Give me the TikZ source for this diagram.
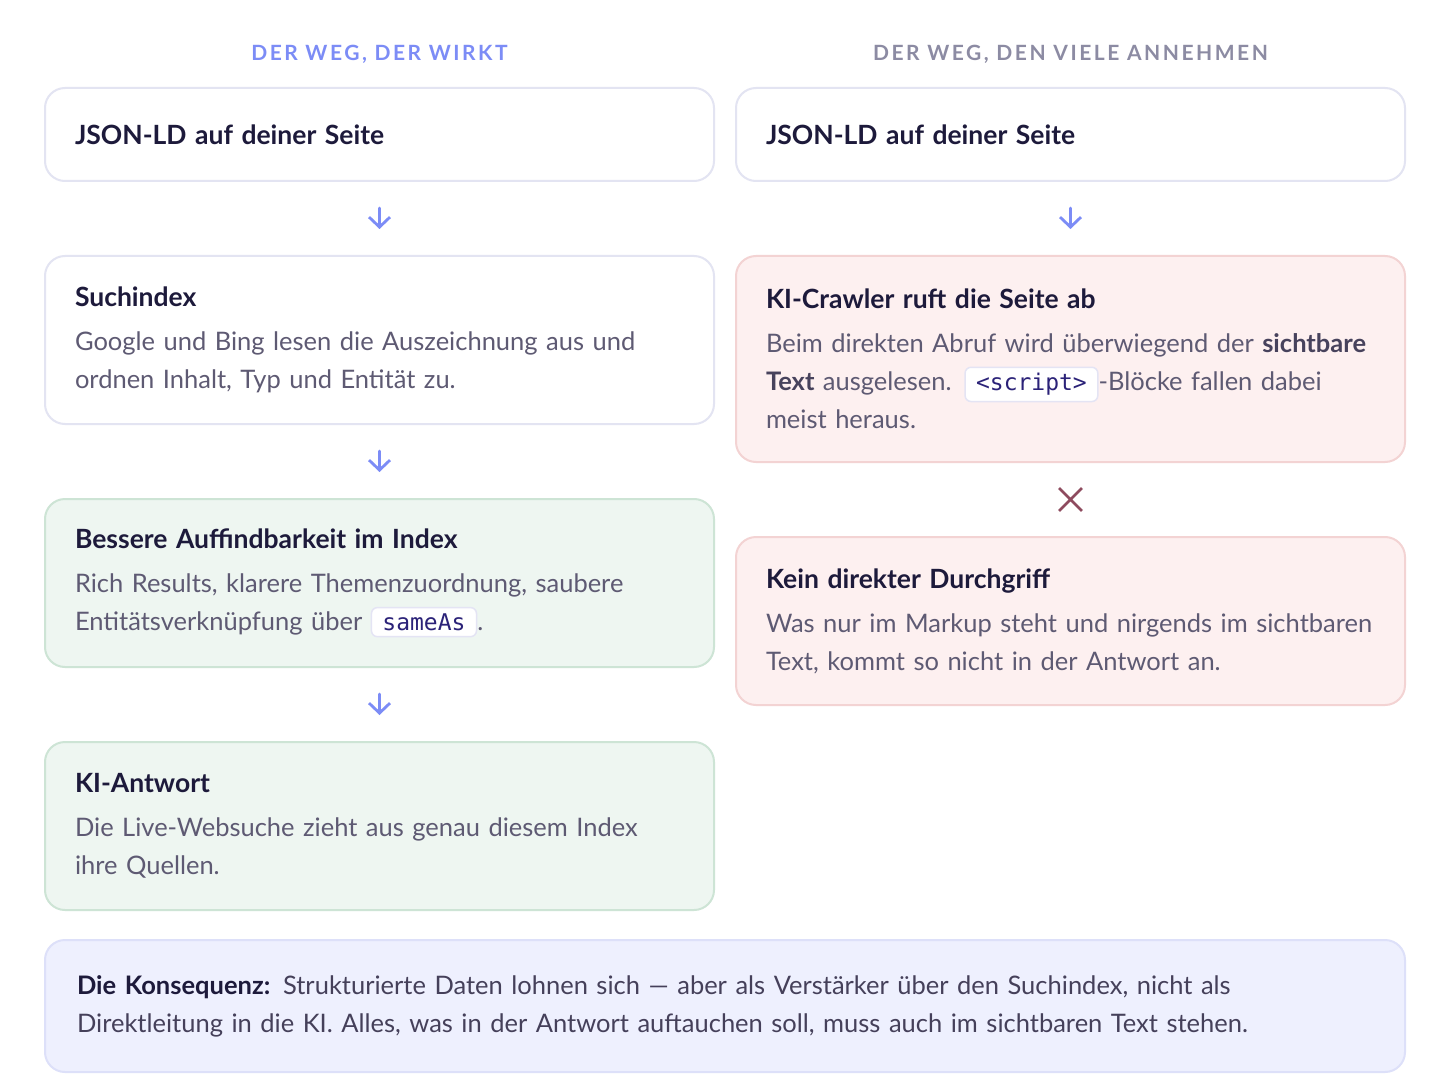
\documentclass[tikz,border=0pt]{standalone}
\usepackage{fontspec}
\setmainfont{Lato}[WordSpace=0.9]
\newfontfamily\headfont[LetterSpace=12]{Lato}
\newfontfamily\codefont{DejaVu Sans Mono}
\usepackage{xcolor}
\usetikzlibrary{positioning,arrows.meta,shapes.misc}
\definecolor{headblue}{HTML}{7C8CF6}
\definecolor{headgray}{HTML}{8C8BA3}
\definecolor{ink}{HTML}{1D1A3B}
\definecolor{body}{HTML}{5E5A73}
\definecolor{keyink}{HTML}{47425C}
\definecolor{cardline}{HTML}{E3E4F2}
\definecolor{goodfill}{HTML}{EEF6F1}
\definecolor{goodline}{HTML}{CDE4D5}
\definecolor{badfill}{HTML}{FDF0F0}
\definecolor{badline}{HTML}{F3D3D3}
\definecolor{sumfill}{HTML}{EEF0FE}
\definecolor{sumline}{HTML}{DDE0F9}
\definecolor{sumink}{HTML}{45405A}
\definecolor{arrowblue}{HTML}{7C8CF6}
\definecolor{stopred}{HTML}{8E4B5F}
\definecolor{chipline}{HTML}{E4E4F4}
\definecolor{codeink}{HTML}{2B2278}
\newcommand\ttl[1]{{\fontsize{26.5}{38}\selectfont\bfseries\color{ink}#1}}
\newcommand\keyword[1]{{\bfseries\color{keyink}#1}}
\newcommand\chip[1]{\tikz[baseline=(code.base)]\node[chip](code){#1};}

\begin{document}
\begin{tikzpicture}[x=1pt,y=-1pt,
  card/.style={draw=cardline, fill=white, line width=2pt, rounded corners=20pt, anchor=north west, text width=609pt, inner xsep=30pt, inner ysep=0pt, outer sep=0pt, align=left, minimum height=168pt, font=\fontsize{25.5}{38}\selectfont, text=body},
  good/.style={card, draw=goodline, fill=goodfill},
  bad/.style={card, draw=badline, fill=badfill},
  flow/.style={draw=arrowblue, line width=2.8pt, line cap=round, -{Straight Barb[length=10pt,width=21pt]}, shorten <=27pt, shorten >=27pt},
  head/.style={font=\headfont\bfseries\fontsize{21}{21}\selectfont},
  chip/.style={draw=chipline, fill=white, line width=1.5pt, rounded corners=6pt, text width={}, minimum width=0pt, minimum height=0pt, inner xsep=11pt, inner ysep=6pt, outer sep=0pt, anchor=base, font=\codefont\fontsize{23}{23}\selectfont, text=codeink},
  node distance=75pt]
\useasboundingbox[fill=white] (0,0) rectangle (1450,1075);

\node[card, minimum height=93pt] (l1) at (45,88) {\ttl{JSON-LD auf deiner Seite}};
\node[card, below=of l1] (l2) {\ttl{Suchindex}\\[6pt]
  Google und Bing lesen die Auszeichnung aus und\\
  ordnen Inhalt, Typ und Entität zu.};
\node[good, below=of l2] (l3) {\ttl{Bessere Auffindbarkeit im Index}\\[6pt]
  Rich Results, klarere Themenzuordnung, saubere\\
  Entitätsverknüpfung über \chip{sameAs}.};
\node[good, below=of l3] (l4) {\ttl{KI-Antwort}\\[6pt]
  Die Live-Websuche zieht aus genau diesem Index\\
  ihre Quellen.};

\node[card, minimum height=93pt, right=22pt of l1] (r1) {\ttl{JSON-LD auf deiner Seite}};
\node[bad, minimum height=206pt, below=of r1] (r2) {\ttl{KI-Crawler ruft die Seite ab}\\[6pt]
  Beim direkten Abruf wird überwiegend der \keyword{sichtbare}\\
  \keyword{Text} ausgelesen. \chip{<script>}-Blöcke fallen dabei\\
  meist heraus.};
\node[bad, below=of r2] (r3) {\ttl{Kein direkter Durchgriff}\\[6pt]
  Was nur im Markup steht und nirgends im sichtbaren\\
  Text, kommt so nicht in der Antwort an.};

\node[head, text=headblue] (hl) at ([yshift=34pt]l1.north) {DER WEG, DER WIRKT};
\node[head, text=headgray] (hr) at ([yshift=34pt]r1.north) {DER WEG, DEN VIELE ANNEHMEN};

\draw[flow] (l1) -- (l2);
\draw[flow] (l2) -- (l3);
\draw[flow] (l3) -- (l4);
\draw[flow] (r1) -- (r2);
\path (r2) -- (r3) node[midway, cross out, draw=stopred, line width=2.8pt, minimum size=20pt, inner sep=0pt] (stop) {};

\node[card, draw=sumline, fill=sumfill, text width=1296pt, inner xsep=32pt, minimum height=132pt, text=sumink, anchor=north west] (sum) at ([yshift=-30pt]l4.south west) {%
  \textbf{\color{ink}Die Konsequenz:} Strukturierte Daten lohnen sich — aber als Verstärker über den Suchindex, nicht als\\
  Direktleitung in die KI. Alles, was in der Antwort auftauchen soll, muss auch im sichtbaren Text stehen.};
\end{tikzpicture}
\end{document}
